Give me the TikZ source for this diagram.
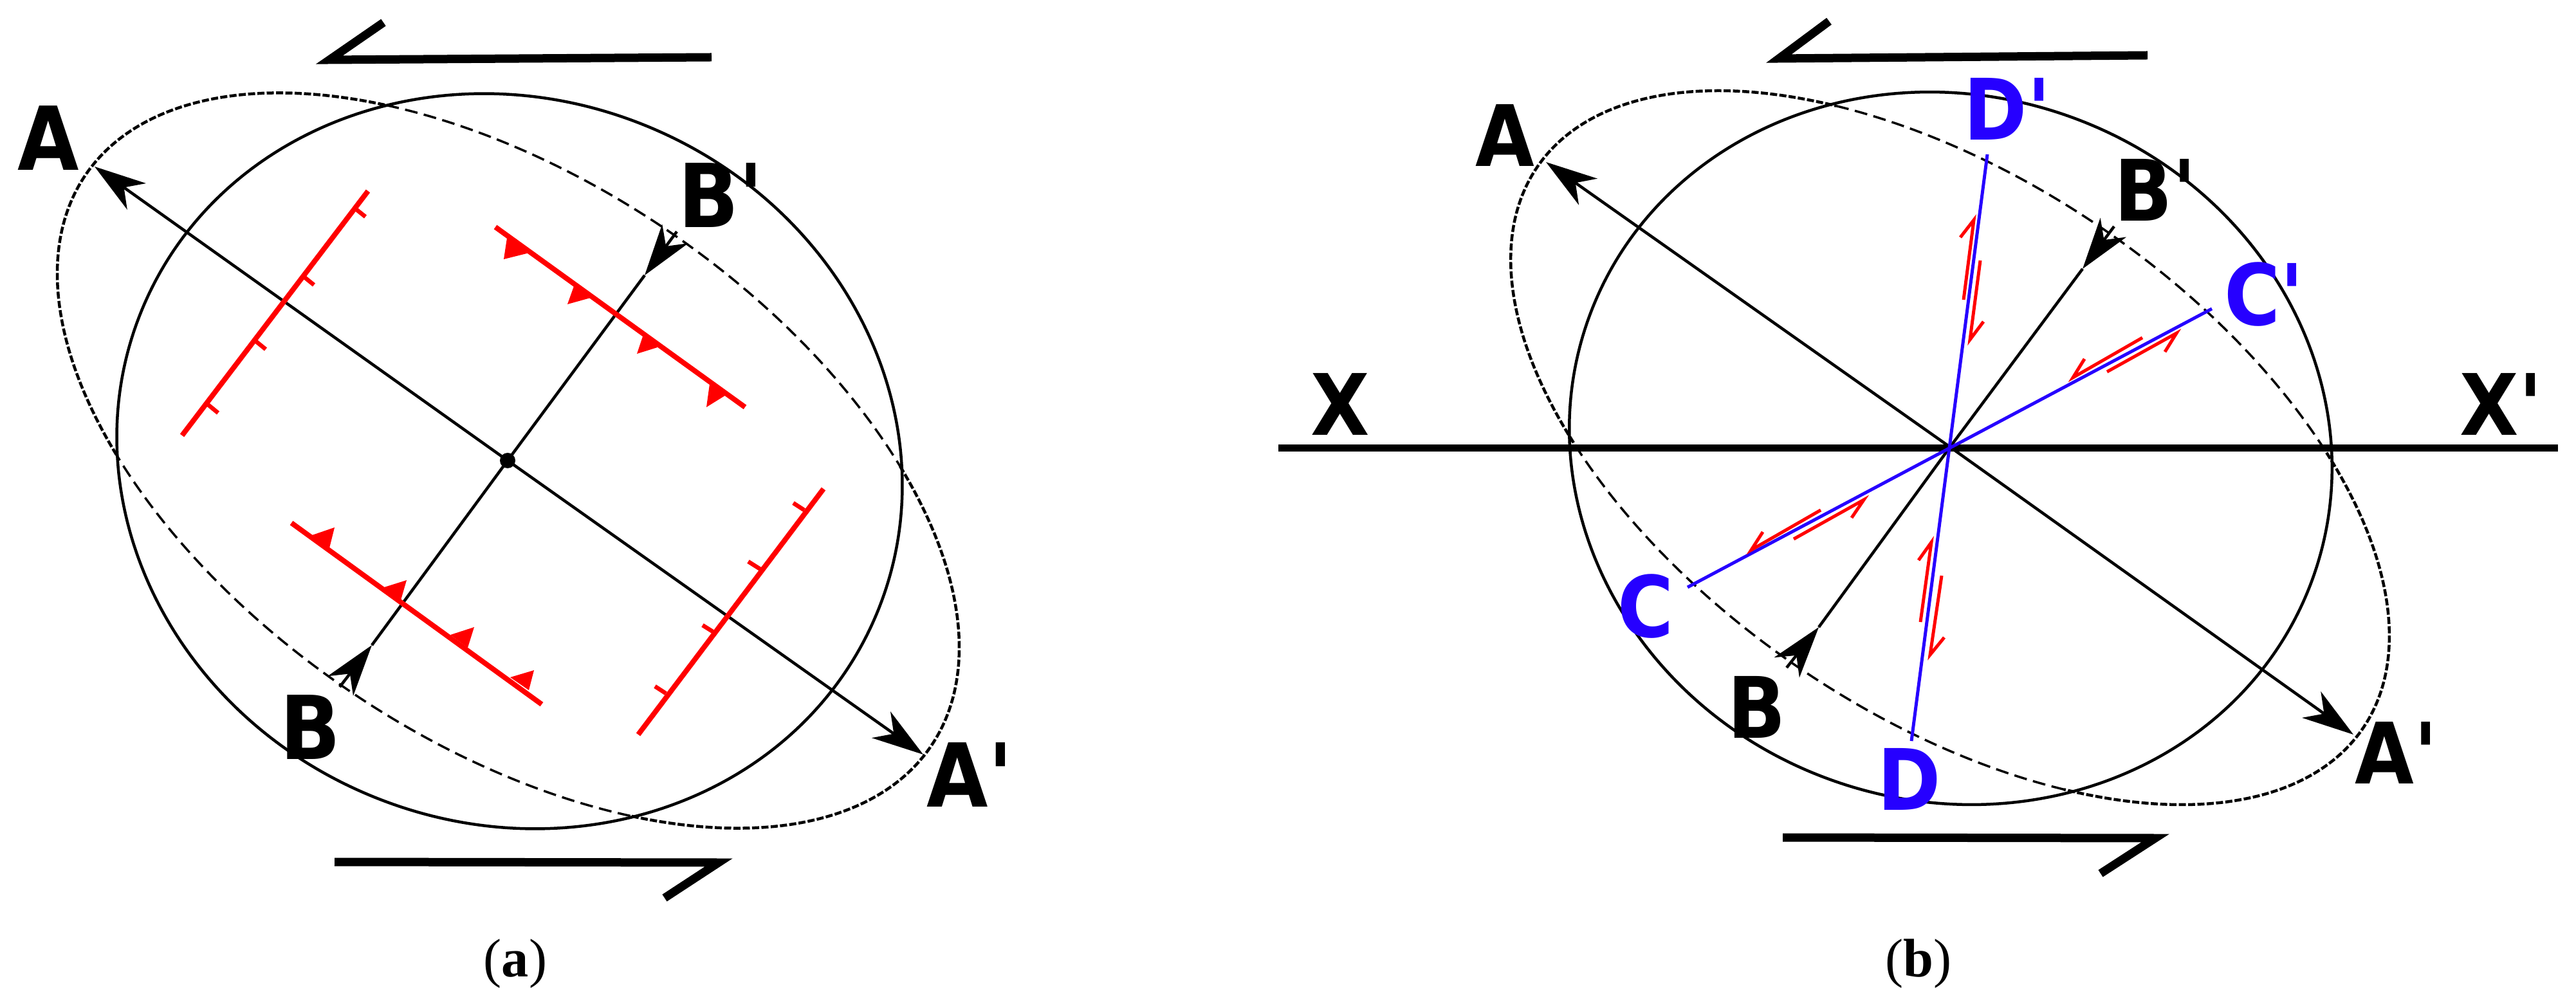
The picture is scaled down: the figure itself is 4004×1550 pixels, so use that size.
\documentclass[tikz,border=0pt]{standalone}
\usepackage{fontspec}
\setmainfont{Liberation Serif}
\newfontfamily\labelfont[FakeStretch = 0.9]{DejaVu Sans}
\usetikzlibrary{arrows.meta}
\definecolor{shearblue}{RGB}{38,0,255}
\tikzset{
  solidline/.style = {line width = 0.45mm},
  lobeline/.style = {line width = 0.45mm, dash pattern = on 1.1mm off 0.35mm},
  innerline/.style = {line width = 0.35mm, dash pattern = on 2mm off 1mm},
  axisline/.style = {line width = 0.45mm},
  axisarrow/.style = {line width = 0.45mm, -{Stealth[length = 8mm, width = 5mm, inset = 2.4mm]}},
  bigarrow/.style = {line width = 1.3mm, miter limit = 10},
  faultline/.style = {red, line width = 0.8mm},
  tickline/.style = {red, line width = 0.65mm},
  slipline/.style = {red, line width = 0.5mm, miter limit = 10},
  blueline/.style = {shearblue, line width = 0.5mm},
  labela/.style = {inner sep = 0pt, anchor = base west, font = \labelfont\bfseries\fontsize{39}{39}\selectfont},
  labelb/.style = {inner sep = 0pt, anchor = base west, font = \labelfont\bfseries\fontsize{37.5}{38}\selectfont},
  caption/.style = {inner sep = 0pt, anchor = base, font = \fontsize{24}{24}\selectfont}
}
\begin{document}
\begin{tikzpicture}[x = 0.1mm, y = -0.1mm]
\useasboundingbox (0,0) rectangle (4004,1550);

\coordinate (oa) at (789,716);
\coordinate (aa) at (147,259);
\coordinate (ap) at (1435,1173);
\coordinate (be) at (528,1068);
\coordinate (bt) at (578,1003);
\coordinate (pe) at (1052,360);
\coordinate (pt) at (1002,428);

\draw[solidline, rotate around = {-22.4:(792,717)}] (792,717) ellipse [x radius = 618, y radius = 563];
\begin{scope}[shift = {(790,716)}, rotate = -34]
\draw[lobeline] (-50:793 and 435) arc [start angle = -50, end angle = 54, x radius = 793, y radius = 435];
\draw[innerline] (54:793 and 435) arc [start angle = 54, end angle = 130, x radius = 793, y radius = 435];
\draw[lobeline] (130:793 and 435) arc [start angle = 130, end angle = 234, x radius = 793, y radius = 435];
\draw[innerline] (234:793 and 435) arc [start angle = 234, end angle = 310, x radius = 793, y radius = 435];
\end{scope}

\draw[axisarrow] (oa) -- (aa);
\draw[axisarrow] (oa) -- (ap);
\draw[axisline] (oa) -- (bt);
\draw[axisarrow] (be) -- (bt);
\draw[axisline] (oa) -- (pt);
\draw[axisarrow] (pe) -- (pt);
\fill (oa) circle (12);

\draw[faultline] (572,297) -- (283,677);
\draw[faultline] (1280,760) -- (992,1142);
\draw[faultline] (770,353) -- (1158,633);
\draw[faultline] (453,813) -- (842,1095);
\foreach \xa/\ya/\xb/\yb in {553/325/568/337, 472/430/488/443, 397/530/413/543, 322/628/339/642, 1250/793/1233/782, 1182/885/1163/873, 1108/982/1092/972, 1035/1078/1018/1067}
  \draw[tickline] (\xa,\ya) -- (\xb,\yb);
\foreach \xa/\ya/\xb/\yb/\xc/\yc in {788/370/783/403/823/393, 892/445/882/473/918/463, 1000/520/990/550/1022/540, 1103/597/1098/633/1127/615, 485/832/520/820/512/852, 597/913/632/902/623/933, 700/987/737/975/727/1007, 793/1053/830/1042/822/1073}
  \fill[red] (\xa,\ya) -- (\xb,\yb) -- (\xc,\yc) -- cycle;

\draw[bigarrow] (1106,89) -- (512,93) -- (596,35);
\draw[bigarrow] (520,1340) -- (1117,1341) -- (1033,1396);

\node[labela] (la) at (27,265) {A};
\node[labela] (lp) at (1054,354) {B'};
\node[labela] (lb) at (435,1180) {B};
\node[labela] (lq) at (1440,1254) {A'};
\node[caption] (capa) at (801,1518) {(\textbf{a})};

\coordinate (ob) at (3031,695);
\coordinate (ac) at (2403,252);
\coordinate (ad) at (3658,1142);
\coordinate (bb) at (2777,1038);
\coordinate (bc) at (2827,975);
\coordinate (bd) at (3286,352);
\coordinate (bf) at (3237,418);
\coordinate (cc) at (2623,913);
\coordinate (cd) at (3438,480);
\coordinate (dd) at (2971,1152);
\coordinate (de) at (3089,240);

\draw[solidline, rotate around = {-19.5:(3032,697)}] (3032,697) ellipse [x radius = 598, y radius = 548];
\begin{scope}[shift = {(3031,696)}, rotate = -34.2]
\draw[lobeline] (-51:776 and 415) arc [start angle = -51, end angle = 55, x radius = 776, y radius = 415];
\draw[innerline] (55:776 and 415) arc [start angle = 55, end angle = 129, x radius = 776, y radius = 415];
\draw[lobeline] (129:776 and 415) arc [start angle = 129, end angle = 235, x radius = 776, y radius = 415];
\draw[innerline] (235:776 and 415) arc [start angle = 235, end angle = 309, x radius = 776, y radius = 415];
\end{scope}

\draw[line width = 1.1mm] (1987,697) -- (3976,697);
\draw[axisarrow] (ob) -- (ac);
\draw[axisarrow] (ob) -- (ad);
\draw[axisline] (ob) -- (bc);
\draw[axisarrow] (bb) -- (bc);
\draw[axisline] (ob) -- (bf);
\draw[axisarrow] (bd) -- (bf);
\draw[blueline] (cc) -- (cd);
\draw[blueline] (dd) -- (de);

\foreach \xa/\ya/\xb/\yb/\xc/\yc in {3330/525/3222/587/3240/558, 3275/578/3383/518/3365/547, 3052/466/3068/342/3047/369, 3078/405/3062/528/3083/500, 2830/793/2722/855/2740/827, 2788/838/2897/777/2878/805, 2985/967/3002/843/2982/871, 3018/895/3000/1018/3022/991}
  \draw[slipline] (\xa,\ya) -- (\xb,\yb) -- (\xc,\yc);

\draw[bigarrow] (3338,86) -- (2765,91) -- (2843,33);
\draw[bigarrow] (2771,1302) -- (3350,1303) -- (3265,1358);

\node[labelb] (lc) at (2293,259) {A};
\node[labelb] (ld) at (3286,344) {B'};
\node[labelb] (le) at (2685,1147) {B};
\node[labelb] (lf) at (3660,1218) {A'};
\node[labelb] (lx) at (2037,677) {X};
\node[labelb] (ly) at (3823,677) {X'};
\node[labelb, shearblue] (lg) at (3052,218) {D'};
\node[labelb, shearblue] (lh) at (3457,506) {C'};
\node[labelb, shearblue] (li) at (2514,991) {C};
\node[labelb, shearblue] (lj) at (2918,1259) {D};
\node[caption] (capb) at (2982,1518) {(\textbf{b})};
\end{tikzpicture}
\end{document}
